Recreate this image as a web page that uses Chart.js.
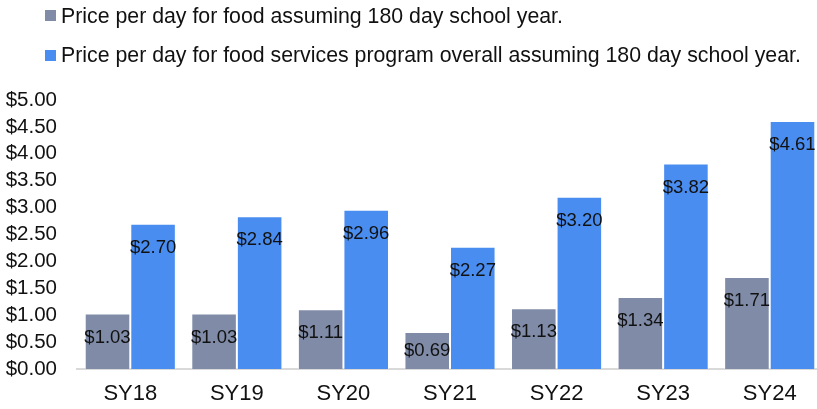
<!DOCTYPE html>
<html>
<head>
<meta charset="utf-8">
<script src="https://cdn.jsdelivr.net/npm/chart.js@4/dist/chart.umd.min.js"></script>
<style>
  html, body { margin: 0; padding: 0; background: #fff; overflow: hidden; width: 817px; height: 409px; }
  #wrap { position: relative; width: 823px; height: 409px; }
  canvas { position: absolute; left: 0; top: 0; }
  .leg { position: absolute; left: 45px; height: 20px; line-height: 20px; font-family: "Liberation Sans", Arial, sans-serif; font-size: 21.3px; color: #111; white-space: nowrap; }
  .leg span.sw { position: absolute; left: 0; top: 4.5px; width: 11px; height: 11px; }
  .leg span.tx { position: absolute; left: 16px; top: 0; }
</style>
</head>
<body>
<div id="wrap">
  <canvas id="c" width="823" height="409"></canvas>
  <div class="leg" id="leg1" style="top:5.5px"><span class="sw"></span><span class="tx"></span></div>
  <div class="leg" id="leg2" style="top:45px"><span class="sw"></span><span class="tx"></span></div>
</div>
<script>
const categories = ["SY18", "SY19", "SY20", "SY21", "SY22", "SY23", "SY24"];
const foodValues = [1.03, 1.03, 1.11, 0.69, 1.13, 1.34, 1.71];
const programValues = [2.70, 2.84, 2.96, 2.27, 3.20, 3.82, 4.61];
const seriesNames = [
  "Price per day for food assuming 180 day school year.",
  "Price per day for food services program overall assuming 180 day school year."
];
const seriesColors = ["#7F8BA7", "#4A8DF0"];
const yTickMin = 0, yTickMax = 5, yTickStep = 0.5;

const FONT = "'Liberation Sans', Arial, sans-serif";

[["leg1", 0], ["leg2", 1]].forEach(([id, i]) => {
  const el = document.getElementById(id);
  el.querySelector(".sw").style.background = seriesColors[i];
  el.querySelector(".tx").textContent = seriesNames[i];
});

const money = v => "$" + Number(v).toFixed(2);

const labelPlugin = {
  id: "barLabels",
  afterDatasetsDraw(chart) {
    const ctx = chart.ctx;
    ctx.save();
    ctx.font = "18.5px " + FONT;
    ctx.fillStyle = "#111";
    ctx.textAlign = "center";
    ctx.textBaseline = "middle";
    chart.data.datasets.forEach((ds, di) => {
      const meta = chart.getDatasetMeta(di);
      meta.data.forEach((bar, i) => {
        const y = Math.min(bar.y + 24, (bar.y + bar.base) / 2);
        ctx.fillText(money(ds.data[i]), bar.x, y);
      });
    });
    ctx.restore();
  }
};

new Chart(document.getElementById("c"), {
  type: "bar",
  data: {
    labels: categories,
    datasets: [
      { label: seriesNames[0], data: foodValues, backgroundColor: seriesColors[0], borderColor: "rgba(255,255,255,0.55)", borderWidth: 1, borderSkipped: "bottom" },
      { label: seriesNames[1], data: programValues, backgroundColor: seriesColors[1], borderColor: "rgba(255,255,255,0.55)", borderWidth: 1, borderSkipped: "bottom" }
    ]
  },
  options: {
    responsive: false,
    animation: false,
    layout: { padding: { top: 100, bottom: 0, left: 0, right: 0 } },
    plugins: { legend: { display: false }, tooltip: { enabled: false } },
    datasets: { bar: { categoryPercentage: 0.855, barPercentage: 1.0 } },
    scales: {
      x: {
        grid: { display: false, drawTicks: false },
        border: { display: true, color: "#D9D9D9", width: 2 },
        ticks: { color: "#111", font: { family: FONT, size: 22 }, padding: 12, maxRotation: 0, autoSkip: false },
        afterFit: s => { s.height = 40; }
      },
      y: {
        min: yTickMin, max: yTickMax,
        grid: { display: false, drawTicks: false },
        border: { display: false },
        ticks: { stepSize: yTickStep, autoSkip: false, color: "#111", font: { family: FONT, size: 20.5 }, padding: 20, callback: v => money(v) },
        afterFit: s => { s.width = 77; }
      }
    }
  },
  plugins: [labelPlugin]
});
</script>
</body>
</html>
